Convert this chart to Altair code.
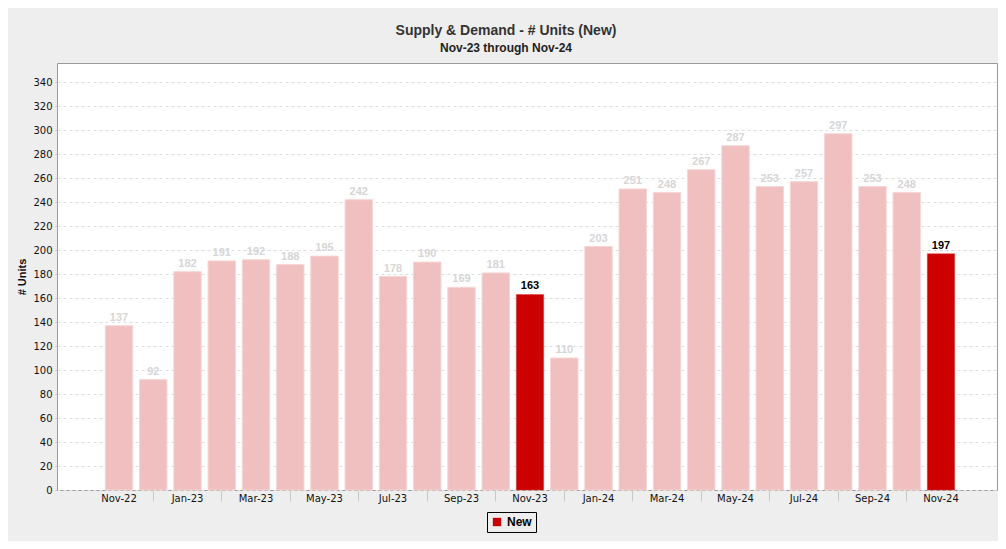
import json
import altair as alt
import pandas as pd

months = ["Nov-22", "Dec-22", "Jan-23", "Feb-23", "Mar-23", "Apr-23", "May-23", "Jun-23",
          "Jul-23", "Aug-23", "Sep-23", "Oct-23", "Nov-23", "Dec-23", "Jan-24", "Feb-24",
          "Mar-24", "Apr-24", "May-24", "Jun-24", "Jul-24", "Aug-24", "Sep-24", "Oct-24", "Nov-24"]
units = [137, 92, 182, 191, 192, 188, 195, 242, 178, 190, 169, 181, 163,
         110, 203, 251, 248, 267, 287, 253, 257, 297, 253, 248, 197]
highlight = ["Nov-23", "Nov-24"]
labelled = months[::2]
unlabelled = months[1::2]
y_ticks = list(range(0, 341, 20))

df = pd.DataFrame({"month": months, "units": units})
df["series"] = "New"
df["hl"] = df["month"].isin(highlight)

# empty slots at both ends of the band scale for the outer gap
x_domain = ["_pad0"] + months + ["_pad1"]

lab_list = json.dumps(labelled)
unl_list = json.dumps(unlabelled)
x_enc = alt.X(
    "month:N", sort=months, title=None,
    scale=alt.Scale(domain=x_domain, paddingInner=0.2, paddingOuter=0.323, align=0.636),
    axis=alt.Axis(
        labelAngle=0,
        labelExpr=f"indexof({lab_list}, datum.value) >= 0 ? datum.value : ''",
        labelFont="DejaVu Sans", labelFontSize=10, labelColor="#111",
        labelPadding=-8, tickSize=11, tickColor="#c8c8c8",
        tickOpacity={"condition": {"test": f"indexof({unl_list}, datum.value) < 0", "value": 0}, "value": 1},
        domain=False, grid=False,
    ),
)
y_enc = alt.Y(
    "units:Q", title="# Units",
    scale=alt.Scale(domain=[0, 356], nice=False),
    axis=alt.Axis(
        values=y_ticks, labelFont="DejaVu Sans", labelFontSize=10, labelColor="#111",
        labelPadding=3, tickSize=2, tickColor="#bbbbbb", domain=False,
        grid=True, gridColor="#dddddd", gridDash=[3, 3],
        titleFont="Liberation Sans", titleFontSize=11, titleFontWeight="bold",
        titleColor="#111", titlePadding=5,
    ),
)

base = alt.Chart(df)

pink = base.transform_filter("!datum.hl").mark_bar(
    color="#f0bfbf", stroke="#f6d6d6", strokeWidth=1
).encode(x=x_enc, y=y_enc)

red = base.transform_filter("datum.hl").mark_bar(stroke="#d94040", strokeWidth=0.5).encode(
    x=x_enc, y=y_enc,
    color=alt.Color(
        "series:N", scale=alt.Scale(domain=["New"], range=["#cc0000"]),
        legend=alt.Legend(
            title=None, orient="none", legendX=430, legendY=449,
            strokeColor="#000000", padding=4, symbolType="square", symbolSize=70,
            symbolStrokeWidth=0, labelFont="Liberation Sans", labelFontSize=12,
            labelFontWeight="bold", labelColor="#000",
        ),
    ),
)

txt_pink = base.transform_filter("!datum.hl").mark_text(
    baseline="bottom", dy=-3, font="Liberation Sans", fontSize=11, fontWeight="bold",
    color="#d6d6d6",
).encode(x=x_enc, y=y_enc, text="units:Q")

txt_red = base.transform_filter("datum.hl").mark_text(
    baseline="bottom", dy=-3, font="Liberation Sans", fontSize=11, fontWeight="bold",
    color="#000000",
).encode(x=x_enc, y=y_enc, text="units:Q")

chart = alt.layer(pink, red, txt_pink, txt_red).properties(
    width=940, height=427,
    autosize=alt.AutoSizeParams(type="none"),
    padding={"left": 49, "top": 55, "right": 1, "bottom": 51},
    background="#eeeeee",
    title=alt.TitleParams(
        text="Supply & Demand - # Units (New)",
        subtitle="Nov-23 through Nov-24",
        font="Liberation Sans", fontSize=14, fontWeight="bold", color="#333333",
        subtitleFont="Liberation Sans", subtitleFontSize=12, subtitleFontWeight="bold",
        subtitleColor="#222222", subtitlePadding=5, offset=9, dx=-21, anchor="middle",
    ),
).configure_view(
    fill="#ffffff", stroke="#9a9a9a", strokeWidth=1
)

chart.save("out.html", embed_options={"renderer": "svg", "actions": False})
